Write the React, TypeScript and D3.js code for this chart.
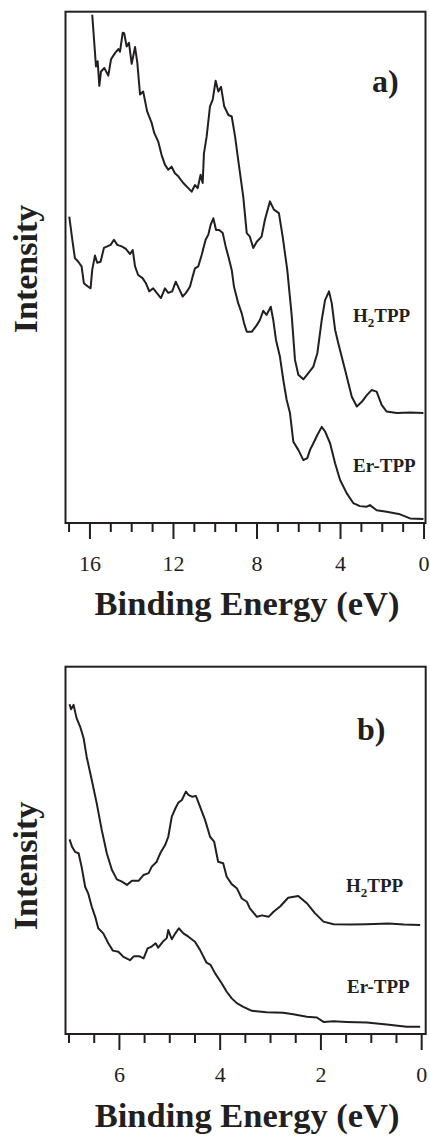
import React from 'react'
import { scaleLinear, line, range } from 'd3'

// Binding energy (eV), intensity (a.u., 0-100 of the panel height)
const topH2TPP: [number, number][] = [
  [15.89, 99.4], [15.71, 89.3], [15.63, 90.3], [15.55, 85.5], [15.47, 88.3], [15.31, 89.0],
  [15.12, 87.5], [14.99, 90.7], [14.8, 91.9], [14.64, 92.7], [14.56, 92.2], [14.43, 95.9],
  [14.36, 95.8], [14.24, 93.2], [14.13, 93.9], [14.0, 89.8], [13.84, 93.1], [13.73, 90.0],
  [13.6, 83.8], [13.45, 84.4], [13.26, 80.5], [13.04, 78.2], [12.92, 76.3], [12.73, 74.6],
  [12.57, 72.0], [12.41, 70.1], [12.25, 69.1], [12.09, 69.7], [11.93, 68.4], [11.77, 67.8],
  [11.53, 66.5], [11.29, 65.5], [11.13, 64.8], [10.97, 66.1], [10.84, 65.5], [10.7, 68.1],
  [10.6, 66.5], [10.54, 72.3], [10.41, 75.6], [10.25, 81.5], [10.12, 82.8], [9.98, 86.5],
  [9.85, 84.4], [9.72, 85.3], [9.57, 81.5], [9.37, 79.8], [9.21, 79.5], [9.05, 75.6],
  [8.9, 71.0], [8.66, 63.9], [8.49, 56.7], [8.34, 56.0], [8.18, 53.8], [8.01, 55.0],
  [7.78, 56.0], [7.62, 59.3], [7.38, 62.9], [7.19, 61.3], [6.95, 60.6], [6.77, 56.0],
  [6.55, 49.5], [6.34, 40.7], [6.18, 31.9], [6.02, 29.0], [5.78, 28.1], [5.54, 29.3],
  [5.3, 30.6], [5.11, 33.2], [4.9, 39.7], [4.74, 43.6], [4.55, 45.3], [4.42, 43.0],
  [4.26, 37.8], [4.11, 35.2], [3.78, 29.9], [3.46, 24.7], [3.22, 22.8], [2.98, 23.7],
  [2.74, 25.0], [2.51, 26.0], [2.27, 25.7], [2.03, 23.1], [1.79, 21.8], [1.31, 21.5],
  [0.67, 21.6], [0.03, 21.5],
]

const topErTPP: [number, number][] = [
  [16.99, 59.9], [16.83, 55.0], [16.72, 51.8], [16.56, 51.1], [16.4, 50.2], [16.29, 46.9],
  [16.08, 46.2], [15.97, 45.9], [15.89, 49.5], [15.76, 52.3], [15.65, 50.9], [15.49, 51.1],
  [15.33, 53.8], [15.17, 54.1], [15.01, 54.4], [14.85, 55.4], [14.69, 54.4], [14.48, 54.1],
  [14.28, 53.6], [14.08, 52.6], [13.95, 53.4], [13.84, 50.2], [13.69, 48.5], [13.48, 47.9],
  [13.32, 46.9], [13.16, 45.3], [12.97, 45.9], [12.8, 45.0], [12.6, 44.0], [12.41, 45.9],
  [12.25, 45.0], [12.06, 45.3], [11.89, 47.2], [11.74, 45.9], [11.56, 44.3], [11.4, 45.0],
  [11.21, 46.2], [11.08, 48.2], [10.97, 49.8], [10.81, 50.2], [10.65, 52.4], [10.46, 55.4],
  [10.33, 56.4], [10.22, 58.3], [10.09, 59.6], [9.96, 57.3], [9.81, 57.3], [9.64, 56.7],
  [9.5, 54.1], [9.37, 52.1], [9.21, 49.5], [9.1, 46.2], [8.9, 43.0], [8.73, 41.0],
  [8.62, 39.1], [8.49, 37.4], [8.25, 37.4], [8.01, 38.7], [7.86, 39.7], [7.7, 41.5],
  [7.54, 40.7], [7.34, 42.3], [7.22, 39.7], [7.09, 35.8], [6.9, 32.5], [6.74, 28.0],
  [6.58, 24.1], [6.42, 21.5], [6.26, 15.9], [6.02, 14.3], [5.78, 12.3], [5.59, 12.7],
  [5.46, 14.3], [5.3, 15.6], [5.11, 17.2], [4.9, 18.8], [4.74, 17.9], [4.5, 15.6],
  [4.26, 11.7], [4.02, 8.4], [3.7, 5.8], [3.39, 3.9], [3.07, 3.3], [2.74, 3.2],
  [2.59, 3.5], [2.27, 2.5], [1.79, 2.2], [1.15, 1.7], [0.67, 0.9], [0.03, 0.8],
]

const bottomH2TPP: [number, number][] = [
  [6.99, 89.8], [6.96, 88.4], [6.91, 89.6], [6.85, 86.0], [6.78, 83.7], [6.71, 80.5],
  [6.65, 75.5], [6.55, 69.2], [6.45, 62.8], [6.35, 55.5], [6.25, 49.2], [6.15, 44.7],
  [6.05, 42.1], [5.95, 41.5], [5.85, 40.6], [5.75, 41.7], [5.62, 41.7], [5.52, 43.3],
  [5.42, 43.8], [5.36, 45.5], [5.26, 46.9], [5.19, 49.2], [5.09, 51.5], [5.03, 53.7],
  [4.96, 59.2], [4.89, 61.4], [4.83, 63.0], [4.76, 63.7], [4.68, 66.0], [4.63, 65.1],
  [4.56, 64.6], [4.48, 64.8], [4.4, 61.9], [4.3, 58.3], [4.2, 53.7], [4.12, 52.4],
  [4.04, 46.9], [3.94, 46.5], [3.87, 42.8], [3.77, 40.8], [3.67, 39.7], [3.57, 36.9],
  [3.47, 36.0], [3.41, 34.2], [3.27, 31.9], [3.17, 32.3], [3.04, 31.9], [2.94, 33.3],
  [2.81, 34.7], [2.65, 37.1], [2.45, 37.6], [2.28, 35.6], [2.12, 32.9], [1.95, 30.6],
  [1.75, 29.9], [1.4, 29.8], [1.09, 29.9], [0.66, 30.1], [0.35, 29.8], [0.03, 29.7],
]

const bottomErTPP: [number, number][] = [
  [6.99, 53.0], [6.94, 51.0], [6.88, 49.6], [6.81, 49.2], [6.75, 45.5], [6.68, 40.1],
  [6.62, 38.3], [6.55, 34.7], [6.48, 31.9], [6.42, 28.8], [6.32, 27.4], [6.22, 24.7],
  [6.13, 22.7], [6.02, 22.4], [5.92, 21.0], [5.79, 20.1], [5.71, 21.2], [5.61, 21.2],
  [5.52, 20.6], [5.44, 23.3], [5.36, 23.8], [5.28, 24.7], [5.23, 23.5], [5.14, 25.1],
  [5.06, 26.1], [5.03, 28.3], [4.96, 25.8], [4.89, 27.4], [4.82, 28.8], [4.73, 27.4],
  [4.63, 26.5], [4.5, 25.1], [4.4, 22.9], [4.27, 19.4], [4.19, 18.8], [4.1, 16.5],
  [3.97, 13.8], [3.87, 11.5], [3.77, 9.7], [3.67, 8.4], [3.54, 7.4], [3.37, 6.3],
  [3.08, 5.9], [2.75, 5.8], [2.55, 5.4], [2.28, 4.7], [2.08, 4.5], [1.95, 3.3],
  [1.75, 3.5], [1.49, 3.3], [1.09, 3.1], [0.69, 2.6], [0.3, 2.0], [0.03, 2.0],
]

const topTickLabels = [16, 12, 8, 4, 0]
const bottomTickLabels = [6, 4, 2, 0]

const ink = '#231f20'
const serif = '"Liberation Serif", "Times New Roman", serif'

type PanelProps = {
  box: { left: number; right: number; top: number; bottom: number }
  xDomain: [number, number]
  ticks: number[]
  isMajor: (t: number) => boolean
  tickLabels: number[]
  series: [number, number][][]
  tag: string
  tagPos: [number, number]
  labels: { text: string; sub?: string; rest?: string; x: number; y: number }[]
  labelY: number
  titleY: number
  intensityY: number
}

const Panel = ({ box, xDomain, ticks, isMajor, tickLabels, series, tag, tagPos, labels, labelY, titleY, intensityY }: PanelProps) => {
  const x = scaleLinear().domain(xDomain).range([box.left, box.right])
  const y = scaleLinear().domain([0, 100]).range([box.bottom, box.top])
  const path = line<[number, number]>().x(d => x(d[0])).y(d => y(d[1]))

  return (
    <g>
      {series.map((s, i) => (
        <path key={i} d={path(s) || ''} fill='none' stroke={ink} strokeWidth={2} strokeLinejoin='round' />
      ))}
      <rect x={box.left} y={box.top} width={box.right - box.left} height={box.bottom - box.top}
        fill='none' stroke={ink} strokeWidth={2} />
      {ticks.map(t => (
        <line key={t} x1={x(t)} x2={x(t)} y1={box.bottom} y2={box.bottom + (isMajor(t) ? 16 : 9)}
          stroke={ink} strokeWidth={2} />
      ))}
      {tickLabels.map(t => (
        <text key={t} x={x(t)} y={labelY} textAnchor='middle' fontFamily={serif} fontSize={22} fill={ink}>{t}</text>
      ))}
      <text x={(box.left + box.right) / 2 + 1.5} y={titleY} textAnchor='middle' fontFamily={serif}
        fontWeight='bold' fontSize={34.5} fill={ink}>Binding Energy (eV)</text>
      <text transform={`translate(37,${intensityY}) rotate(-90)`} textAnchor='middle' fontFamily={serif}
        fontWeight='bold' fontSize={34} fill={ink}>Intensity</text>
      <text x={tagPos[0]} y={tagPos[1]} fontFamily={serif} fontWeight='bold' fontSize={32} fill={ink}>{tag}</text>
      {labels.map(l => (
        <text key={l.text + l.y} x={l.x} y={l.y} fontFamily={serif} fontWeight='bold' fontSize={19} fill={ink}>
          {l.text}
          {l.sub && <tspan fontSize={13} dy={5}>{l.sub}</tspan>}
          {l.rest && <tspan dy={-5}>{l.rest}</tspan>}
        </text>
      ))}
    </g>
  )
}

const App = () => {
  return (
    <svg width={430} height={1136} viewBox='0 0 430 1136'
      style={{ position: 'absolute', left: 0, top: 0, background: '#fff' }}>
      <Panel
        box={{ left: 65.5, right: 425.5, top: 11.7, bottom: 523 }}
        xDomain={[17.17, -0.07]}
        ticks={range(0, 18)}
        isMajor={t => t % 4 === 0}
        tickLabels={topTickLabels}
        series={[topH2TPP, topErTPP]}
        tag='a)'
        tagPos={[372, 92]}
        labels={[
          { text: 'H', sub: '2', rest: 'TPP', x: 353, y: 321.5 },
          { text: 'Er-TPP', x: 353, y: 471.5 },
        ]}
        labelY={571}
        titleY={615}
        intensityY={269}
      />
      <Panel
        box={{ left: 65.5, right: 425.7, top: 666.7, bottom: 1034 }}
        xDomain={[7.07, -0.08]}
        ticks={range(0, 7.01, 0.5)}
        isMajor={t => t % 2 === 0}
        tickLabels={bottomTickLabels}
        series={[bottomH2TPP, bottomErTPP]}
        tag='b)'
        tagPos={[357, 740]}
        labels={[
          { text: 'H', sub: '2', rest: 'TPP', x: 346, y: 891.5 },
          { text: 'Er-TPP', x: 347, y: 993 },
        ]}
        labelY={1082}
        titleY={1127}
        intensityY={866}
      />
    </svg>
  )
}

export default App
